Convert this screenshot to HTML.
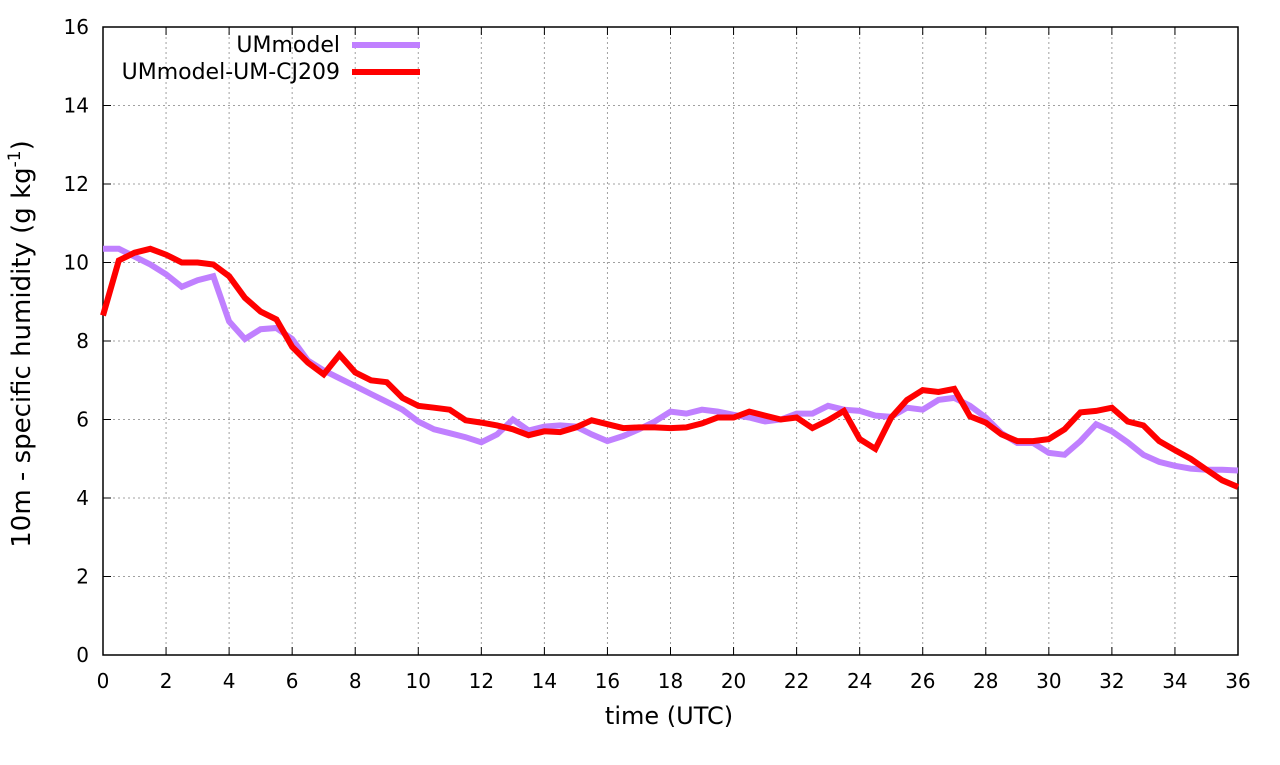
<!DOCTYPE html>
<html><head><meta charset="utf-8"><style>
body{margin:0;background:#fff}
svg text{font-family:"DejaVu Sans","Liberation Sans",sans-serif;fill:#000}
</style></head><body>
<svg id="chart" width="1280" height="760" xmlns="http://www.w3.org/2000/svg">
<g id="grid"></g>
<g id="axes"></g>
<g id="series"></g>
<text x="669" y="724" font-size="24" text-anchor="middle">time (UTC)</text>
<text transform="translate(30,344) rotate(-90)" font-size="26" text-anchor="middle">10m - specific humidity (g kg<tspan dy="-10" font-size="17">-1</tspan><tspan dy="10">)</tspan></text>
<g>
<text x="340" y="52" font-size="22" text-anchor="end">UMmodel</text>
<line x1="352" y1="45" x2="420" y2="45" stroke="#c080ff" stroke-width="6"/>
<text x="340" y="79" font-size="22" text-anchor="end">UMmodel-UM-CJ209</text>
<line x1="352" y1="72" x2="420" y2="72" stroke="#ff0000" stroke-width="6"/>
</g>
</svg>
<script>
const xTicks=[0,2,4,6,8,10,12,14,16,18,20,22,24,26,28,30,32,34,36];
const yTicks=[0,2,4,6,8,10,12,14,16];
const umModel=[10.35,10.35,10.15,9.95,9.7,9.38,9.55,9.65,8.5,8.05,8.3,8.33,8.05,7.5,7.25,7.05,6.85,6.65,6.45,6.25,5.95,5.75,5.65,5.55,5.42,5.62,6.0,5.72,5.82,5.85,5.82,5.62,5.45,5.58,5.75,5.95,6.2,6.15,6.25,6.2,6.12,6.05,5.95,6.0,6.15,6.15,6.35,6.25,6.22,6.1,6.07,6.3,6.25,6.5,6.55,6.35,6.05,5.65,5.4,5.4,5.15,5.1,5.45,5.88,5.7,5.42,5.1,4.92,4.82,4.75,4.72,4.72,4.7];
const umCJ209=[8.65,10.05,10.25,10.35,10.2,10.0,10.0,9.95,9.65,9.1,8.75,8.55,7.85,7.45,7.15,7.65,7.2,7.0,6.95,6.55,6.35,6.3,6.25,5.98,5.92,5.85,5.75,5.6,5.7,5.68,5.8,5.98,5.88,5.78,5.8,5.8,5.78,5.8,5.9,6.05,6.05,6.2,6.1,6.0,6.05,5.78,5.98,6.22,5.5,5.25,6.05,6.5,6.75,6.7,6.78,6.08,5.92,5.62,5.45,5.45,5.5,5.75,6.18,6.22,6.3,5.95,5.85,5.45,5.22,5.0,4.72,4.45,4.28];
const timeStep=0.5;
const X0=103,X1=1238,Y0=655,Y1=27;
const sx=v=>X0+(v-0)/(36-0)*(X1-X0);
const sy=v=>Y0-(v-0)/(16-0)*(Y0-Y1);
const NS="http://www.w3.org/2000/svg";
function mk(tag,attrs,parent){const e=document.createElementNS(NS,tag);for(const k in attrs)e.setAttribute(k,attrs[k]);parent.appendChild(e);return e;}
const grid=document.getElementById('grid'),axes=document.getElementById('axes'),series=document.getElementById('series');
xTicks.forEach(t=>{
  const x=sx(t);
  if(t>0&&t<36){const g=mk('line',{x1:x,y1:Y1,x2:x,y2:Y0,stroke:'#a0a0a0','stroke-width':1,'stroke-dasharray':'2,3'},grid);
  
  }
  mk('line',{x1:x,y1:Y0,x2:x,y2:Y0-8,stroke:'#000'},axes);
  mk('line',{x1:x,y1:Y1,x2:x,y2:Y1+8,stroke:'#000'},axes);
  const tx=mk('text',{x:x,y:Y0+33,'font-size':20,'text-anchor':'middle'},axes);tx.textContent=t;
  
  
});
yTicks.forEach(t=>{
  const y=sy(t);
  if(t>0&&t<16){const g=mk('line',{x1:X0,y1:y,x2:X1,y2:y,stroke:'#a0a0a0','stroke-width':1,'stroke-dasharray':'2,3'},grid);
  
  }
  mk('line',{x1:X0,y1:y,x2:X0+8,y2:y,stroke:'#000'},axes);
  mk('line',{x1:X1,y1:y,x2:X1-8,y2:y,stroke:'#000'},axes);
  const tx=mk('text',{x:X0-14,y:y+7,'font-size':20,'text-anchor':'end'},axes);tx.textContent=t;
  
  
});
const frame=mk('rect',{x:X0,y:Y1,width:X1-X0,height:Y0-Y1,fill:'none',stroke:'#000','stroke-width':1.5},axes);


function line(data,color,name){
  const pts=data.map((v,i)=>sx(i*timeStep).toFixed(1)+','+sy(v).toFixed(1)).join(' ');
  const p=mk('polyline',{points:pts,fill:'none',stroke:color,'stroke-width':6,'stroke-linejoin':'miter'},series);
  
  
}
line(umModel,'#c080ff','ummodel-line');
line(umCJ209,'#ff0000','ummodel-um-cj209-line');
</script>
</body></html>
